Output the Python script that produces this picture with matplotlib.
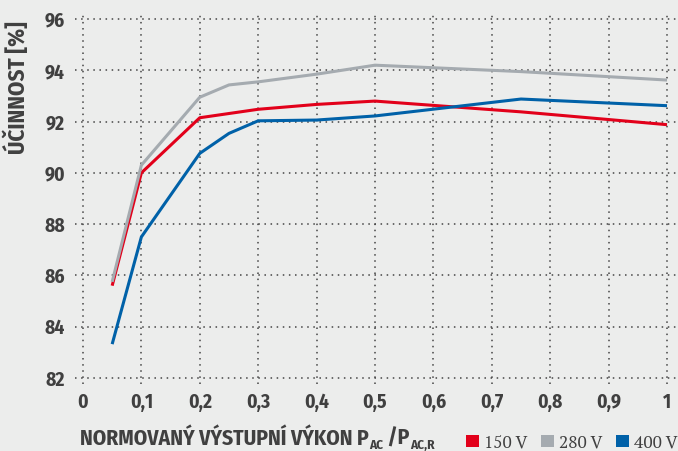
import matplotlib
matplotlib.use("Agg")
import matplotlib.pyplot as plt
from matplotlib import font_manager
from matplotlib.patches import Patch

# normalised output power P_AC / P_AC,R
x_150 = [0.05, 0.1, 0.2, 0.3, 0.4, 0.5, 0.75, 1.0]
eff_150 = [85.6, 90.0, 92.15, 92.48, 92.67, 92.8, 92.38, 91.88]

x_280 = [0.05, 0.1, 0.2, 0.25, 0.3, 0.4, 0.5, 0.75, 1.0]
eff_280 = [85.75, 90.3, 92.95, 93.43, 93.55, 93.85, 94.2, 93.95, 93.62]

x_400 = [0.05, 0.1, 0.2, 0.25, 0.3, 0.4, 0.5, 0.75, 1.0]
eff_400 = [83.32, 87.5, 90.76, 91.54, 92.03, 92.06, 92.22, 92.88, 92.62]

series_labels = ["150 V", "280 V", "400 V"]
series_colors = ["#e2001a", "#a5abb0", "#0061a8"]

x_ticks = [0, 0.1, 0.2, 0.3, 0.4, 0.5, 0.6, 0.7, 0.8, 0.9, 1.0]
x_tick_labels = ["0", "0,1", "0,2", "0,3", "0,4", "0,5", "0,6", "0,7", "0,8", "0,9", "1"]
y_ticks = [82, 84, 86, 88, 90, 92, 94, 96]

# x-axis title pieces: (text, is_subscript)
xlabel_parts = [("NORMOVANÝ VÝSTUPNÍ VÝKON P", False), ("AC", True),
                (" /P", False), ("AC,R", True)]

BG = "#ecedec"
TXT = "#404040"


def pick(cands):
    have = {f.name for f in font_manager.fontManager.ttflist}
    for c in cands:
        if c in have:
            return c
    return "DejaVu Sans"


SANS = pick(["Fira Sans Condensed", "Roboto Condensed", "PT Sans Narrow",
             "Open Sans Condensed", "Encode Sans Condensed", "Archivo Narrow",
             "Liberation Sans Narrow", "Roboto"])
SERIF = pick(["PT Serif", "Liberation Serif", "DejaVu Serif"])
FAM = [SANS, "DejaVu Sans"]

fig = plt.figure(figsize=(6.78, 4.51), dpi=100, facecolor=BG)
ax = fig.add_axes([0.1103, 0.1477, 0.889, 0.8243])
ax.set_facecolor(BG)

for xs, ys, col in zip([x_150, x_280, x_400], [eff_150, eff_280, eff_400], series_colors):
    ax.plot(xs, ys, color=col, linewidth=2.2, solid_capstyle="butt", zorder=3)

ax.set_xlim(-0.014, 1.018)
ax.set_ylim(81.75, 96.25)
ax.set_xticks(x_ticks)
ax.set_xticklabels(x_tick_labels)
ax.set_yticks(y_ticks)
ax.tick_params(length=0, labelsize=14, colors=TXT)
ax.tick_params(axis="y", pad=7)
ax.tick_params(axis="x", pad=6)
for lab in ax.get_xticklabels() + ax.get_yticklabels():
    lab.set_fontfamily(FAM)
    lab.set_fontweight("bold")

ax.grid(True, linestyle=(0, (1, 3)), color="#444444", linewidth=1.1)
for s in ax.spines.values():
    s.set_visible(False)

fig.text(0.025, 0.952, "ÚČINNOST [%]", rotation=90, ha="center", va="top",
         fontsize=16.5, fontweight="bold", family=FAM, color=TXT)

# x-axis title built piece by piece so the subscripts stay small and tight
renderer = fig.canvas.get_renderer()
W, H = fig.bbox.width, fig.bbox.height
x_px = 80.0
base_px = 6.0
for txt, sub in xlabel_parts:
    t = fig.text(x_px / W, (base_px - (4.0 if sub else 0.0)) / H, txt,
                 ha="left", va="baseline", fontsize=9.5 if sub else 15.5,
                 fontweight="bold", family=FAM, color=TXT)
    x_px = t.get_window_extent(renderer).x1 + (0.5 if sub else 0.0)

handles = [Patch(facecolor=c, edgecolor="none") for c in series_colors]
leg = fig.legend(handles, series_labels, loc="lower right", bbox_to_anchor=(0.999, 0.0),
                 ncol=3, frameon=False, handlelength=0.72, handleheight=0.72,
                 handletextpad=0.3, columnspacing=0.8, borderpad=0, borderaxespad=0,
                 prop={"family": SERIF, "size": 12.5})
for t in leg.get_texts():
    t.set_color(TXT)

fig.savefig("out.png", dpi=100, facecolor=BG)
